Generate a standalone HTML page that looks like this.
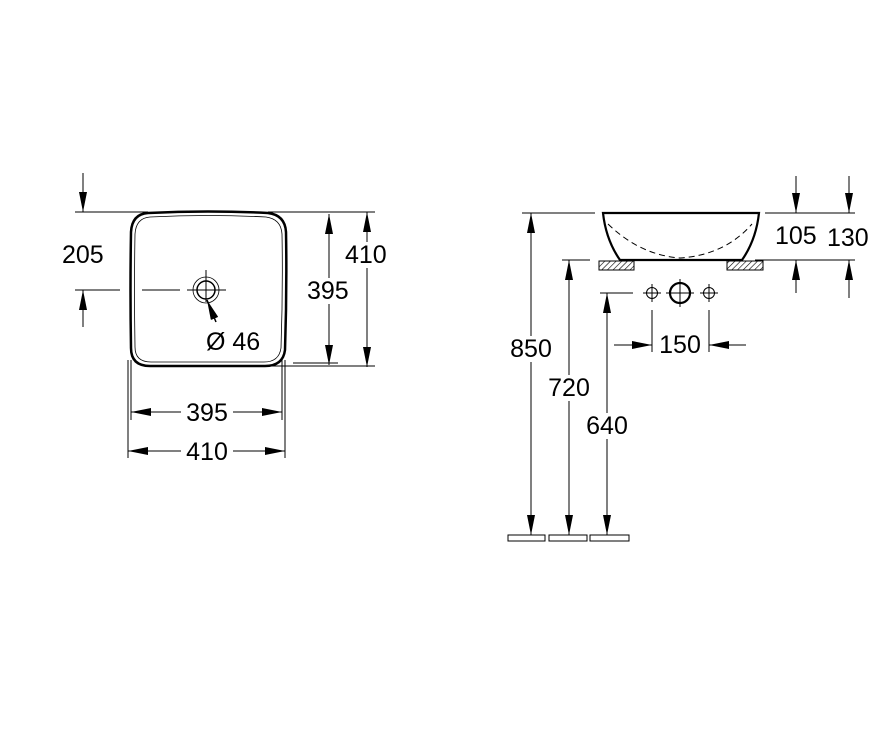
<!DOCTYPE html>
<html><head><style>body{margin:0;background:#fff}svg{display:block}text{font-family:"Liberation Sans",sans-serif;font-size:25px;fill:#000}</style></head><body>
<svg width="896" height="751" viewBox="0 0 896 751" xmlns="http://www.w3.org/2000/svg">
<defs>
<marker id="a" viewBox="0 0 20 8" refX="20" refY="4" markerWidth="20" markerHeight="8" markerUnits="userSpaceOnUse" orient="auto-start-reverse"><path d="M0,0 L20,4 L0,8z" fill="#000"/></marker>
<pattern id="h" width="4" height="4" patternUnits="userSpaceOnUse" patternTransform="rotate(45)"><line x1="0" y1="0" x2="0" y2="4" stroke="#000" stroke-width="1.2"/></pattern>
</defs>
<g stroke="#000" fill="none" stroke-width="1">
<path d="M148,213 Q208,210 268,213 Q285,215 286,232 Q287,290 285,350 Q283,366 265,366 L150,366 Q131,366 131,348 Q130,290 131,232 Q132,214 148,213Z" stroke-width="2.5"/>
<path d="M150,217 Q208,214 266,217 Q281,219 282,234 Q283,290 281,348 Q279,362 264,362 L151,362 Q135,362 135,347 Q134,290 135,234 Q136,218 150,217Z" stroke-width="0.8"/>
<line x1="75" y1="212" x2="148" y2="212"/><line x1="268" y1="212" x2="375" y2="212"/>
<line x1="262" y1="366" x2="375" y2="366"/><line x1="293" y1="363" x2="338" y2="363"/>
<line x1="83" y1="173" x2="83" y2="212" marker-end="url(#a)"/>
<line x1="83" y1="327" x2="83" y2="290" marker-end="url(#a)"/>
<line x1="75" y1="290" x2="120" y2="290"/><line x1="142" y1="290" x2="180" y2="290"/>
<line x1="187" y1="290" x2="226" y2="290"/><line x1="206" y1="270" x2="206" y2="302"/>
<circle cx="206" cy="290" r="9" stroke-width="1.5"/><circle cx="206" cy="290" r="13" stroke-width="0.8"/>
<line x1="207" y1="300" x2="216" y2="322" marker-start="url(#a)" stroke-width="1.5"/>
<line x1="329" y1="214" x2="329" y2="365" marker-start="url(#a)" marker-end="url(#a)"/>
<line x1="367" y1="212" x2="367" y2="367" marker-start="url(#a)" marker-end="url(#a)"/>
<line x1="131" y1="360" x2="131" y2="420"/><line x1="282" y1="360" x2="282" y2="420"/>
<line x1="128" y1="360" x2="128" y2="458"/><line x1="285" y1="360" x2="285" y2="458"/>
<line x1="131" y1="412" x2="282" y2="412" marker-start="url(#a)" marker-end="url(#a)"/>
<line x1="128" y1="451" x2="285" y2="451" marker-start="url(#a)" marker-end="url(#a)"/>
<path d="M603,213 L759,213 Q756,240 742,260 L620,260 Q606,240 603,213Z" stroke-width="2.2"/>
<path d="M608,224 Q640,255 680,258 Q725,255 752,224" stroke-dasharray="6,4"/>
<rect x="599" y="261" width="35" height="9" fill="url(#h)"/><rect x="727" y="261" width="36" height="9" fill="url(#h)"/>
<line x1="522" y1="213" x2="595" y2="213"/><line x1="562" y1="260" x2="590" y2="260"/><line x1="600" y1="293" x2="633" y2="293"/>
<line x1="531" y1="535" x2="531" y2="213" marker-end="url(#a)"/>
<line x1="569" y1="535" x2="569" y2="260" marker-end="url(#a)"/>
<line x1="607" y1="535" x2="607" y2="293" marker-end="url(#a)"/>
<line x1="531" y1="500" x2="531" y2="535" marker-end="url(#a)"/>
<line x1="569" y1="500" x2="569" y2="535" marker-end="url(#a)"/>
<line x1="607" y1="500" x2="607" y2="535" marker-end="url(#a)"/>
<rect x="508" y="535" width="37" height="6"/><rect x="549" y="535" width="38" height="6"/><rect x="590" y="535" width="39" height="6"/>
<circle cx="680" cy="293" r="10" stroke-width="2.2"/><line x1="680" y1="279" x2="680" y2="307"/><line x1="666" y1="293" x2="694" y2="293"/>
<circle cx="652" cy="293" r="5.5"/><line x1="652" y1="284" x2="652" y2="302"/><line x1="643" y1="293" x2="661" y2="293"/>
<circle cx="709" cy="293" r="5.5"/><line x1="709" y1="284" x2="709" y2="302"/><line x1="700" y1="293" x2="718" y2="293"/>
<line x1="652" y1="310" x2="652" y2="352"/><line x1="709" y1="310" x2="709" y2="352"/>
<line x1="614" y1="345" x2="652" y2="345" marker-end="url(#a)"/><line x1="746" y1="345" x2="709" y2="345" marker-end="url(#a)"/>
<line x1="765" y1="213" x2="855" y2="213"/><line x1="755" y1="260" x2="855" y2="260"/>
<line x1="796" y1="176" x2="796" y2="213" marker-end="url(#a)"/><line x1="796" y1="293" x2="796" y2="260" marker-end="url(#a)"/>
<line x1="849" y1="176" x2="849" y2="213" marker-end="url(#a)"/><line x1="849" y1="298" x2="849" y2="260" marker-end="url(#a)"/>
</g>
<g fill="#fff">
<rect x="306" y="278" width="46" height="26"/><rect x="344" y="242" width="46" height="26"/>
<rect x="181" y="400" width="52" height="26"/><rect x="181" y="439" width="52" height="26"/>
<rect x="508" y="336" width="46" height="26"/><rect x="546" y="375" width="46" height="26"/><rect x="584" y="413" width="46" height="26"/>
</g>
<text x="62" y="263">205</text>
<text x="345" y="263">410</text>
<text x="307" y="299">395</text>
<text x="206" y="350">Ø 46</text>
<text x="207" y="421" text-anchor="middle">395</text>
<text x="207" y="460" text-anchor="middle">410</text>
<text x="531" y="357" text-anchor="middle">850</text>
<text x="569" y="396" text-anchor="middle">720</text>
<text x="607" y="434" text-anchor="middle">640</text>
<text x="680" y="353" text-anchor="middle">150</text>
<text x="775" y="244">105</text>
<text x="827" y="246">130</text>
</svg>
</body></html>
